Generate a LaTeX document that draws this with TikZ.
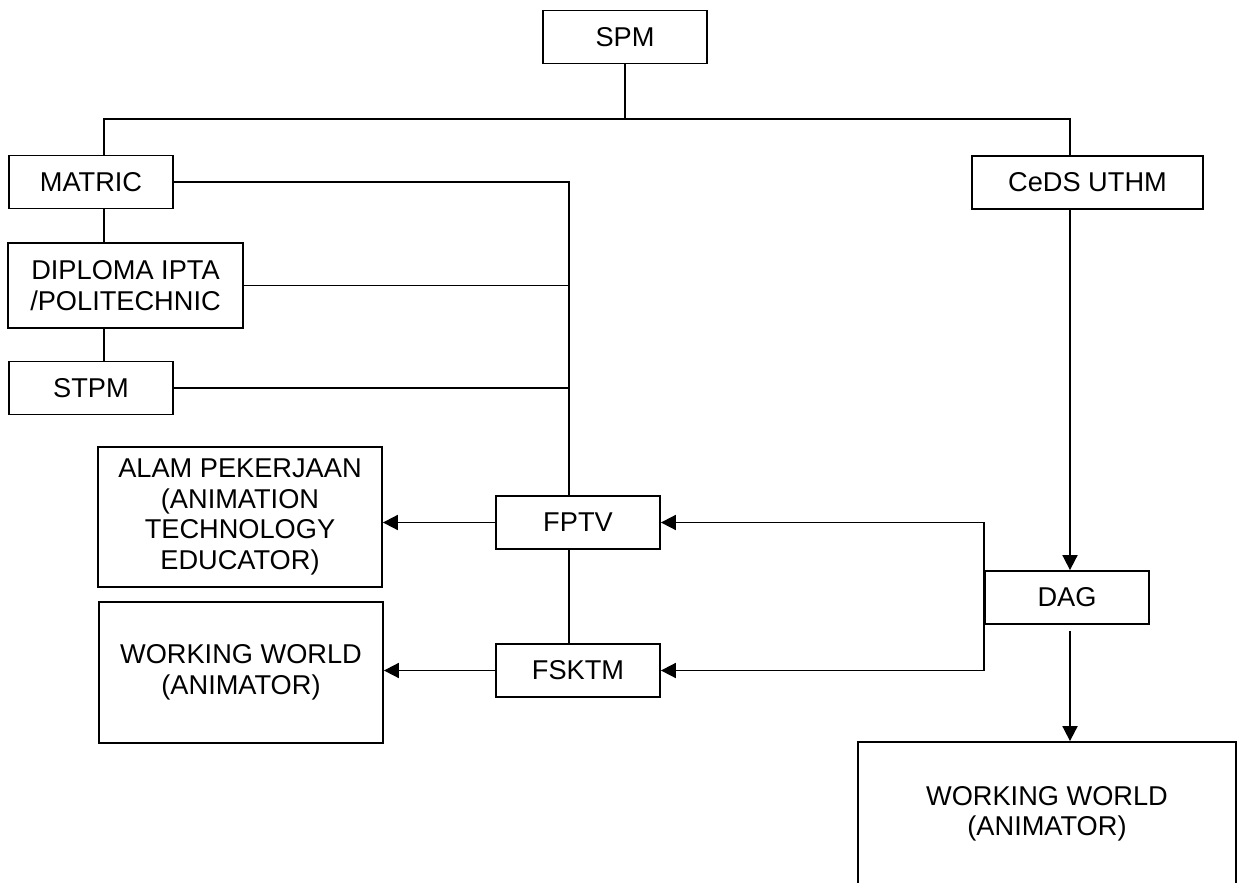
\documentclass[tikz,border=0pt]{standalone}
\usepackage{fontspec}
\setmainfont{Liberation Sans}
\usetikzlibrary{arrows.meta, positioning}

\begin{document}
\begin{tikzpicture}[
  x=0.5pt, y=-0.5pt,
  box/.style  = {rectangle, draw, line width=0.9pt, inner sep=2pt,
                 minimum width=82pt, minimum height=26.5pt, align=center,
                 font=\fontsize{13.6}{15.2}\selectfont},
  wide/.style = {box, minimum width=142pt, minimum height=70pt},
  ln/.style   = {line width=0.9pt},
  arr/.style  = {-{Triangle[length=7.5pt,width=7.5pt]}, line width=0.9pt}
]
\useasboundingbox (0,0) rectangle (1238,883);

% left column
\node[box] (spm)    at (625,37)  {SPM};
\node[box] (matric) at (91,182)  {MATRIC};
\node[box, minimum width=117.5pt, minimum height=42.5pt] (diploma) at (125.5,285.5) {DIPLOMA IPTA\\/POLITECHNIC};
\node[box] (stpm)   at (91,388)  {STPM};
\node[box, minimum width=115.5pt] (ceds) at (1087.5,182.5) {CeDS UTHM};

% faculties and results
\node[wide] (alam)   at (240,517)   {ALAM PEKERJAAN\\(ANIMATION\\TECHNOLOGY\\EDUCATOR)};
\node[box]  (fptv)   at (578,522.5) {FPTV};
\node[box]  (fsktm)  at (578,670.5) {FSKTM};
\node[wide, minimum height=70.5pt] (wwleft) at (241,672.5) {WORKING WORLD\\(ANIMATOR)};
\node[box]  (dag)    at (1067,597.5) {DAG};
\node[wide, minimum width=189pt, minimum height=72pt] (wwright) at (1047,814) {WORKING WORLD\\(ANIMATOR)};

% junctions
\coordinate (split) at (625,119);
\coordinate (lt)    at (104,119);
\coordinate (rt)    at (1070,119);
\coordinate (bus)   at (569,182);

% SPM branches
\draw[ln] (spm.south) -- (split);
\draw[ln] (lt |- matric.north) -- (lt) -- (rt) -- (rt |- ceds.north);
\draw[ln] (lt |- matric.south) -- (lt |- diploma.north);
\draw[ln] (lt |- diploma.south) -- (lt |- stpm.north);

% into FPTV
\draw[ln] (matric.east) -- (bus) -- (bus |- fptv.north);
\draw[ln] (diploma.east) -- (bus |- diploma.east);
\draw[ln] (stpm.east) -- (bus |- stpm.east);
\draw[ln] (bus |- fptv.south) -- (bus |- fsktm.north);

% outcomes
\draw[arr] (fptv.west) -- (alam.east |- fptv.west);
\draw[arr] (fsktm.west) -- (wwleft.east |- fsktm.west);

% CeDS route
\draw[arr] (rt |- ceds.south) -- (rt |- dag.north);
\path (rt |- dag.south) ++(0,6) coordinate (dagout);
\draw[arr] (dagout) -- (rt |- wwright.north);
\draw[{Triangle[length=7.5pt,width=7.5pt]}-{Triangle[length=7.5pt,width=7.5pt]}, line width=0.9pt]
  (fptv.east) -- (dag.west |- fptv.east) -- (dag.west |- fsktm.east) -- (fsktm.east);

\end{tikzpicture}
\end{document}
